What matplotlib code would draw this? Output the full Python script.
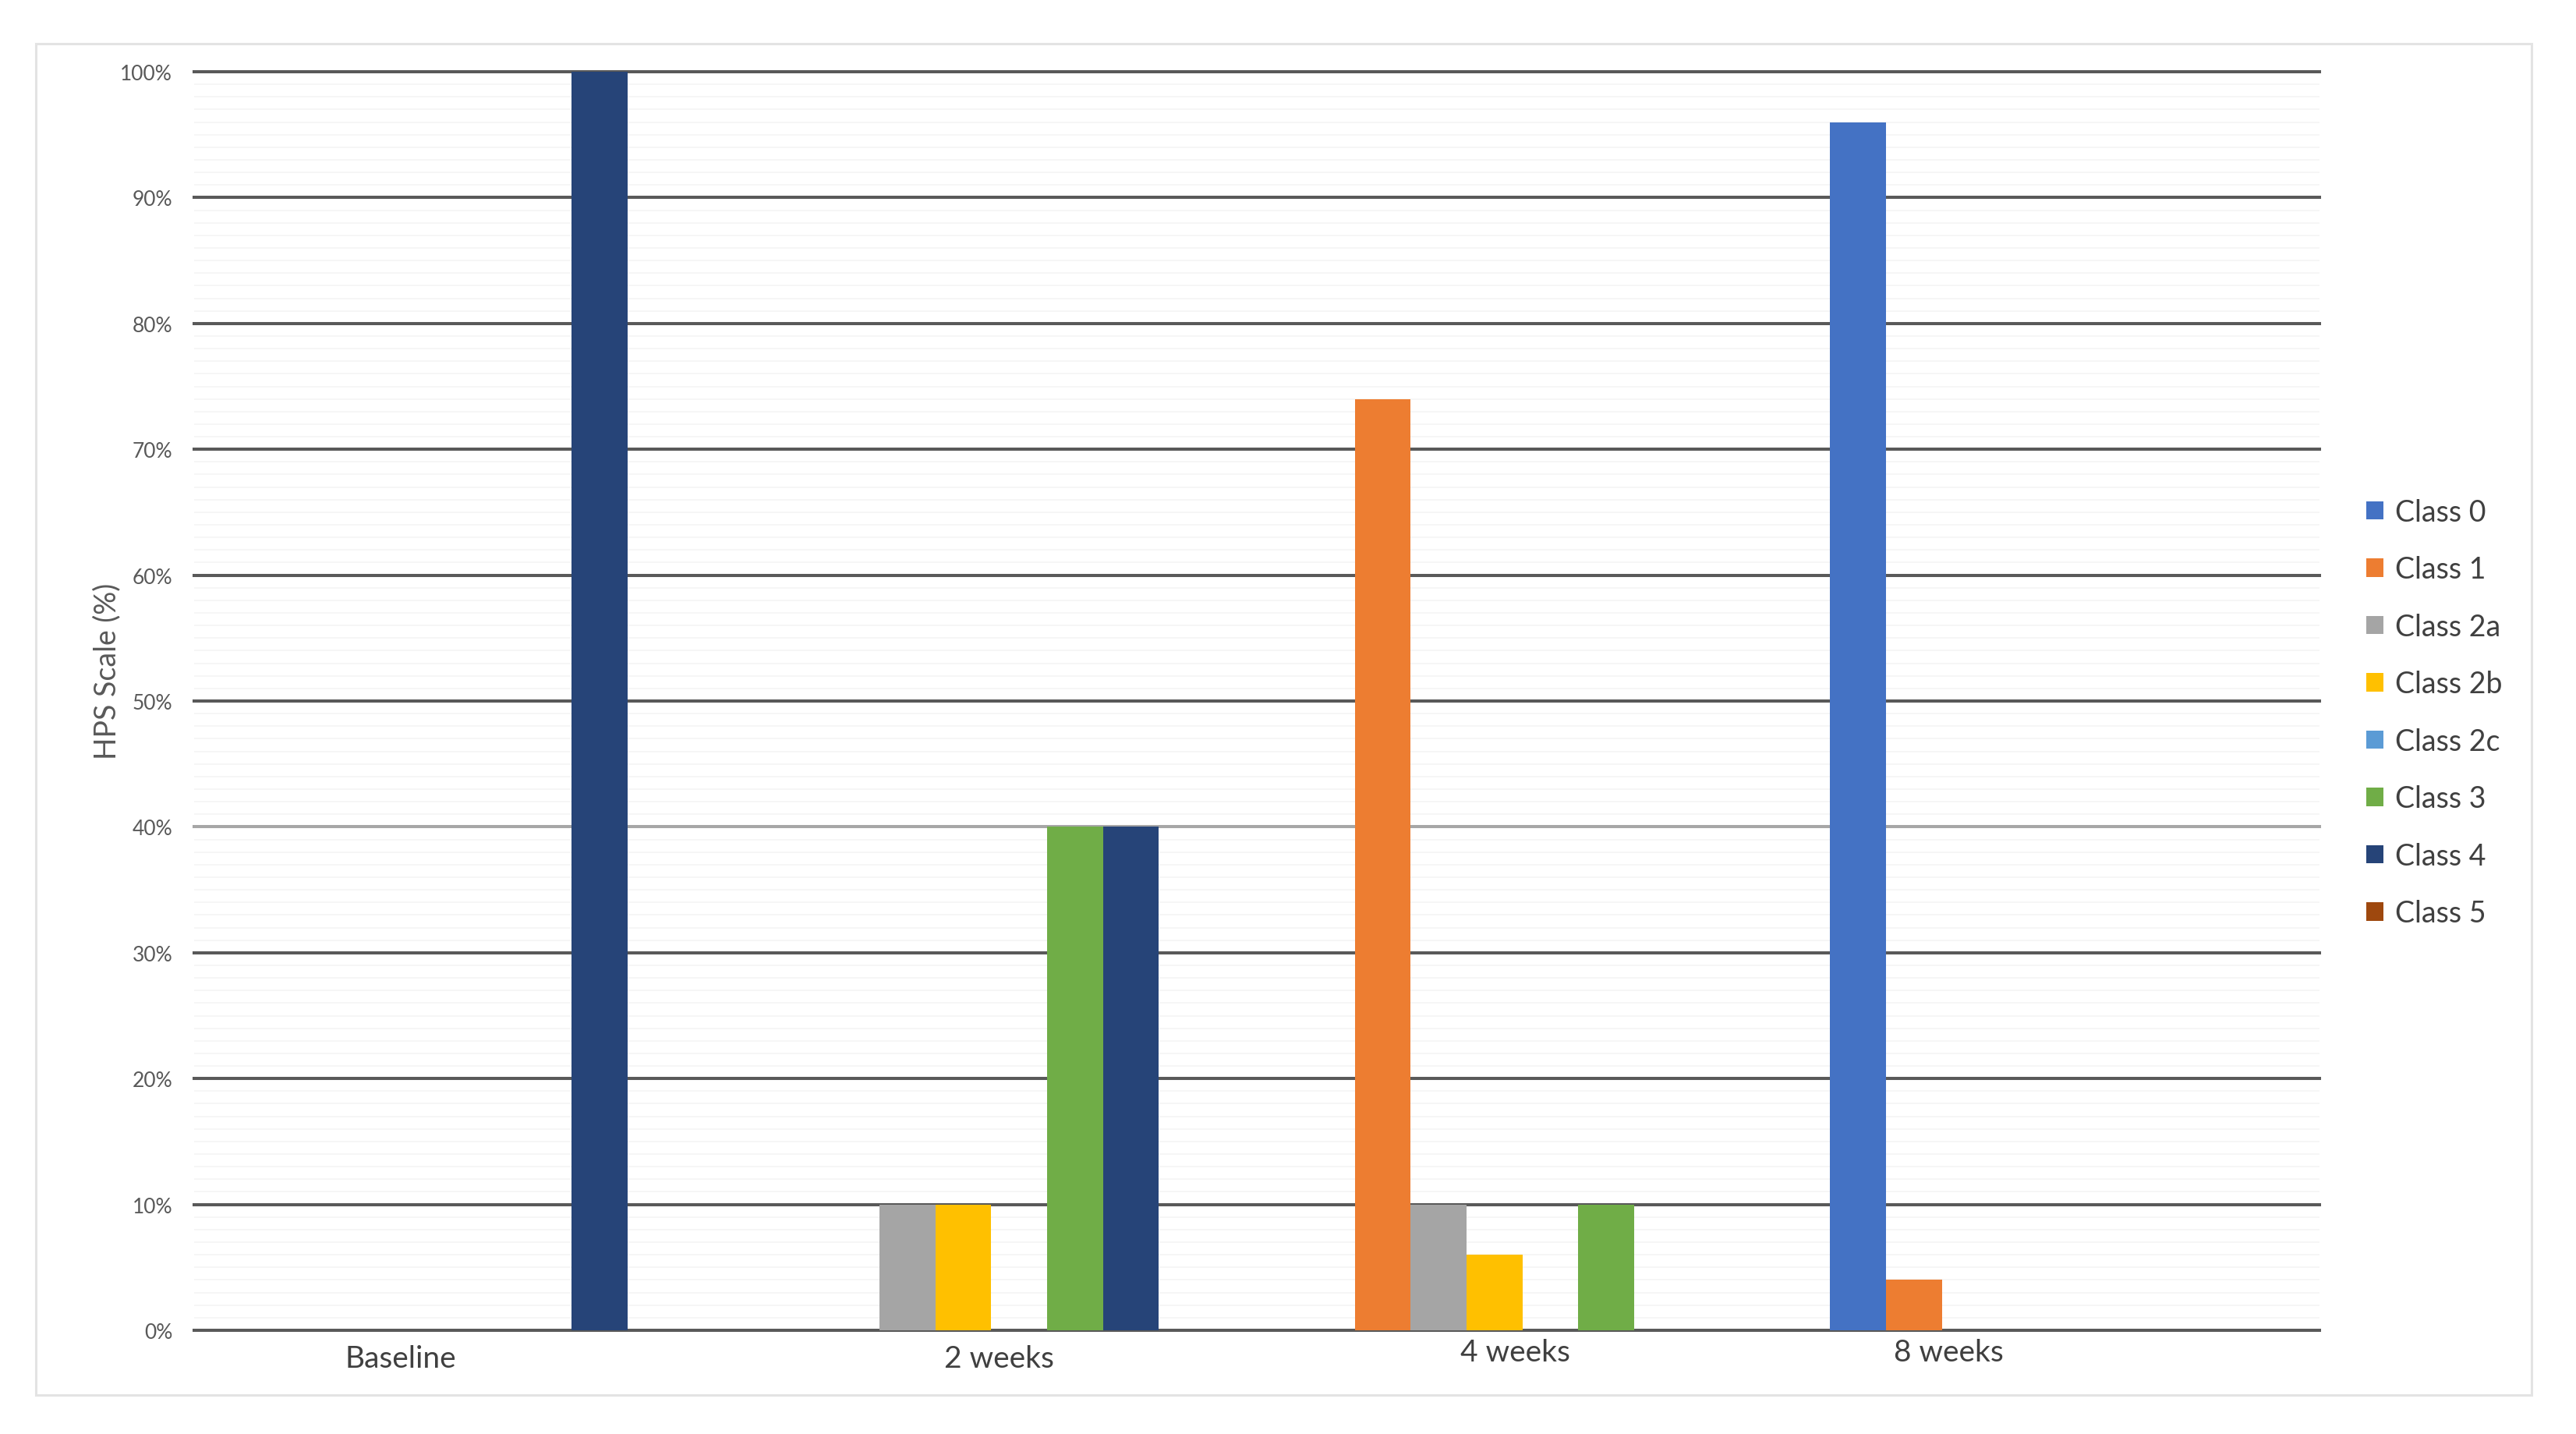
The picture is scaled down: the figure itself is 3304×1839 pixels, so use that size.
import numpy as np
import matplotlib as mpl
import matplotlib.pyplot as plt
import matplotlib.ticker as mticker
from matplotlib.patches import Patch, Rectangle
from matplotlib.transforms import ScaledTranslation

mpl.rcParams.update({
    'font.family': ['Lato', 'DejaVu Sans'],
    'figure.facecolor': 'white',
    'axes.facecolor': 'white',
})

# data (percent of patients per HPS class)
TIMEPOINTS = ['Baseline', '2 weeks', '4 weeks', '8 weeks']
CLASSES = ['Class 0', 'Class 1', 'Class 2a', 'Class 2b',
           'Class 2c', 'Class 3', 'Class 4', 'Class 5']
class_0  = [0, 0, 0, 96]
class_1  = [0, 0, 74, 4]
class_2a = [0, 10, 10, 0]
class_2b = [0, 10, 6, 0]
class_2c = [0, 0, 0, 0]
class_3  = [0, 40, 10, 0]
class_4  = [100, 40, 0, 0]
class_5  = [0, 0, 0, 0]
SERIES = [class_0, class_1, class_2a, class_2b, class_2c, class_3, class_4, class_5]

COLORS = ['#4472C4', '#ED7D31', '#A5A5A5', '#FFC000',
          '#5B9BD5', '#70AD47', '#264478', '#9E480E']

# category labels sit a bit off the group centres in the original
LABEL_DX = [-55, 7, -7, -97]   # points
LABEL_DY = [0, 0, 6, 6]        # points

W_PX, H_PX, DPI = 3304, 1840, 100
fig = plt.figure(figsize=(W_PX / DPI, H_PX / DPI), dpi=DPI)

# light outer frame of the chart area
fig.patches.append(Rectangle((46 / W_PX, 1 - 1790 / H_PX),
                             (3247 - 46) / W_PX, (1790 - 57) / H_PX,
                             transform=fig.transFigure, fill=False,
                             edgecolor='#e3e3e3', linewidth=2.2, zorder=0))

ax = fig.add_axes([249 / W_PX, 1 - 1707 / H_PX,
                   (2975 - 249) / W_PX, (1707 - 93) / H_PX])

n = len(CLASSES)
gap = 1.5
w = 1.0 / (n + gap)
x = np.arange(len(TIMEPOINTS))
for i, (name, vals) in enumerate(zip(CLASSES, SERIES)):
    ax.bar(x + (i - (n - 1) / 2) * w, vals, width=w, color=COLORS[i],
           label=name, linewidth=0, zorder=3)

ax.set_xlim(-0.5, len(TIMEPOINTS) - 0.5)
ax.set_ylim(0, 100)
ax.set_yticks(np.arange(0, 101, 10))
ax.yaxis.set_minor_locator(mticker.MultipleLocator(1))
ax.yaxis.set_major_formatter(mticker.FuncFormatter(lambda v, p: f'{v:.0f}%'))
ax.set_axisbelow(True)
ax.grid(axis='y', which='major', color='#595959', linewidth=2.9, zorder=1)
ax.grid(axis='y', which='minor', color='#f5f5f5', linewidth=1.2, zorder=0)
for t in ax.yaxis.get_major_ticks():
    t.gridline.set_clip_on(False)
# the 40% line is drawn lighter in the original
ax.yaxis.get_major_ticks()[4].gridline.set_color('#a6a6a6')

for sp in ax.spines.values():
    sp.set_visible(False)

ax.tick_params(axis='y', which='both', length=0, pad=20,
               labelsize=19, labelcolor='#595959')
ax.tick_params(axis='x', length=0, pad=13, labelsize=28, labelcolor='#404040')
ax.set_xticks(x)
ax.set_xticklabels(TIMEPOINTS)
for lbl, dx, dy in zip(ax.get_xticklabels(), LABEL_DX, LABEL_DY):
    lbl.set_transform(lbl.get_transform() +
                      ScaledTranslation(dx / 72, dy / 72, fig.dpi_scale_trans))

ax.set_ylabel('HPS Scale (%)', fontsize=27, color='#595959')
ax.yaxis.label.set_va('center')
ax.yaxis.set_label_coords(-0.041, 0.524)

handles = [Patch(facecolor=c, edgecolor='none', label=l)
           for c, l in zip(COLORS, CLASSES)]
fig.legend(handles=handles, loc='center left',
           bbox_to_anchor=(3035 / W_PX, 1 - 915 / H_PX),
           frameon=False, fontsize=27, labelcolor='#404040',
           handlelength=0.58, handleheight=0.58, handletextpad=0.4,
           labelspacing=1.0, borderpad=0, borderaxespad=0)

fig.savefig('out.png', dpi=DPI)
